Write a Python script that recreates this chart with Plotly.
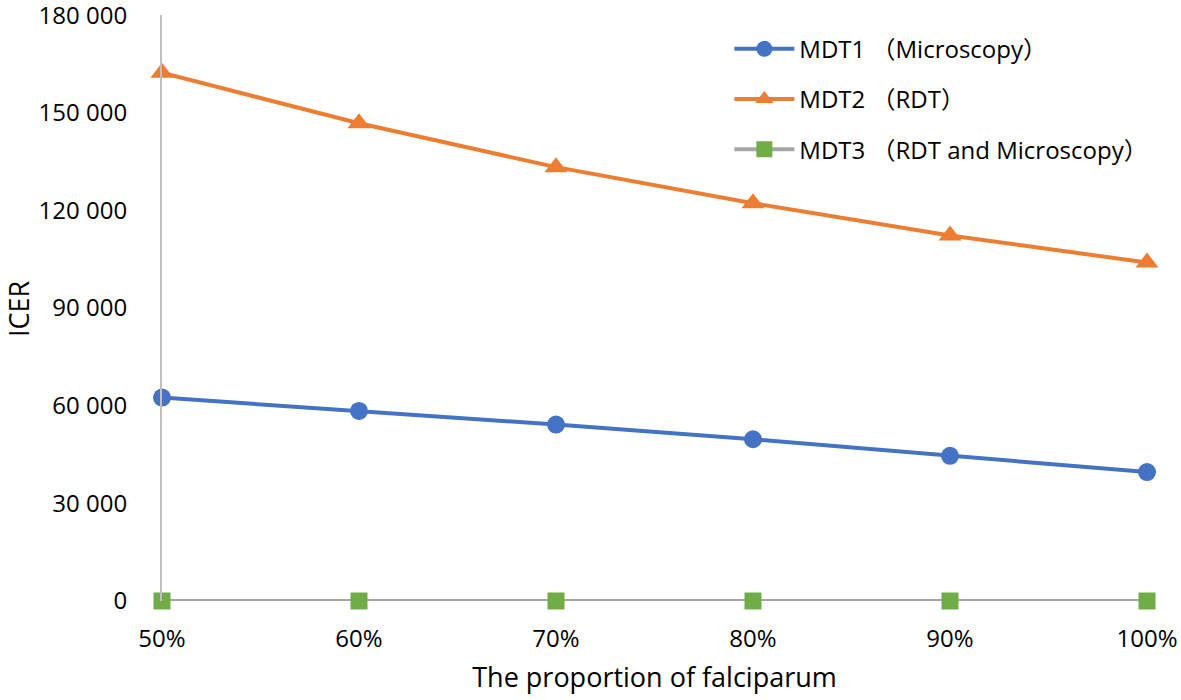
import plotly.graph_objects as go

categories = ["50%", "60%", "70%", "80%", "90%", "100%"]
mdt1 = [62500, 58400, 54200, 49700, 44600, 39600]
mdt2 = [162300, 146800, 133300, 122200, 112300, 104000]
mdt3 = [0, 0, 0, 0, 0, 0]
names = ["MDT1 （Microscopy）", "MDT2 （RDT）", "MDT3 （RDT and Microscopy）"]
yticks = [0, 30000, 60000, 90000, 120000, 150000, 180000]

FONT = "Open Sans, Noto Sans CJK SC, sans-serif"
fig = go.Figure()
specs = [
    (mdt3, names[2], "#A5A5A5", "#70AD47", "square", 17),
    (mdt1, names[0], "#4472C4", "#4472C4", "circle", 18),
    (mdt2, names[1], "#ED7D31", "#ED7D31", "triangle-up", 20),
]
order = {names[0]: 1, names[1]: 2, names[2]: 3}
for vals, name, lc, mc, sym, sz in specs:
    fig.add_trace(go.Scatter(
        x=categories, y=vals, name=name, mode="lines+markers",
        line=dict(color=lc, width=4),
        marker=dict(color=mc, symbol=sym, size=sz, line=dict(width=0)),
        cliponaxis=False, legendrank=order[name], legendgroup=name,
    ))

fig.add_annotation(text="ICER", textangle=-90, xref="paper", yref="paper",
                   x=-0.1462, y=0.5, xanchor="center", yanchor="middle",
                   showarrow=False, font=dict(family=FONT, size=27, color="#000000"))

fig.update_layout(
    width=1181, height=700,
    margin=dict(l=162, r=34, t=15, b=99),
    plot_bgcolor="white", paper_bgcolor="white",
    font=dict(family=FONT, size=24, color="#000000"),
    showlegend=True,
    legend=dict(x=0.576, y=0.98, xanchor="left", yanchor="top",
                bgcolor="rgba(0,0,0,0)", font=dict(family=FONT, size=24),
                traceorder="grouped", tracegroupgap=16, itemwidth=60),
    xaxis=dict(
        type="category", range=[0, 5], showgrid=False, zeroline=False,
        showline=False, ticks="outside", ticklen=16, tickcolor="rgba(0,0,0,0)",
        title=dict(text="The proportion of falciparum", standoff=15,
                   font=dict(family=FONT, size=27)),
        tickfont=dict(family=FONT, size=24), automargin=False,
        ticklabeloverflow="allow",
    ),
    yaxis=dict(
        range=[0, 180050], tickmode="array", tickvals=yticks,
        ticktext=[f"{v:,}".replace(",", " ") for v in yticks],
        showgrid=False, zeroline=False, showline=True, linecolor="#BFBFBF",
        linewidth=2, ticks="outside", ticklen=28, tickcolor="rgba(0,0,0,0)",
        tickfont=dict(family=FONT, size=24), automargin=False,
        ticklabeloverflow="allow",
    ),
)
fig.write_html("out.html", config={"displayModeBar": False},
               post_script="document.body.style.margin='0';")
